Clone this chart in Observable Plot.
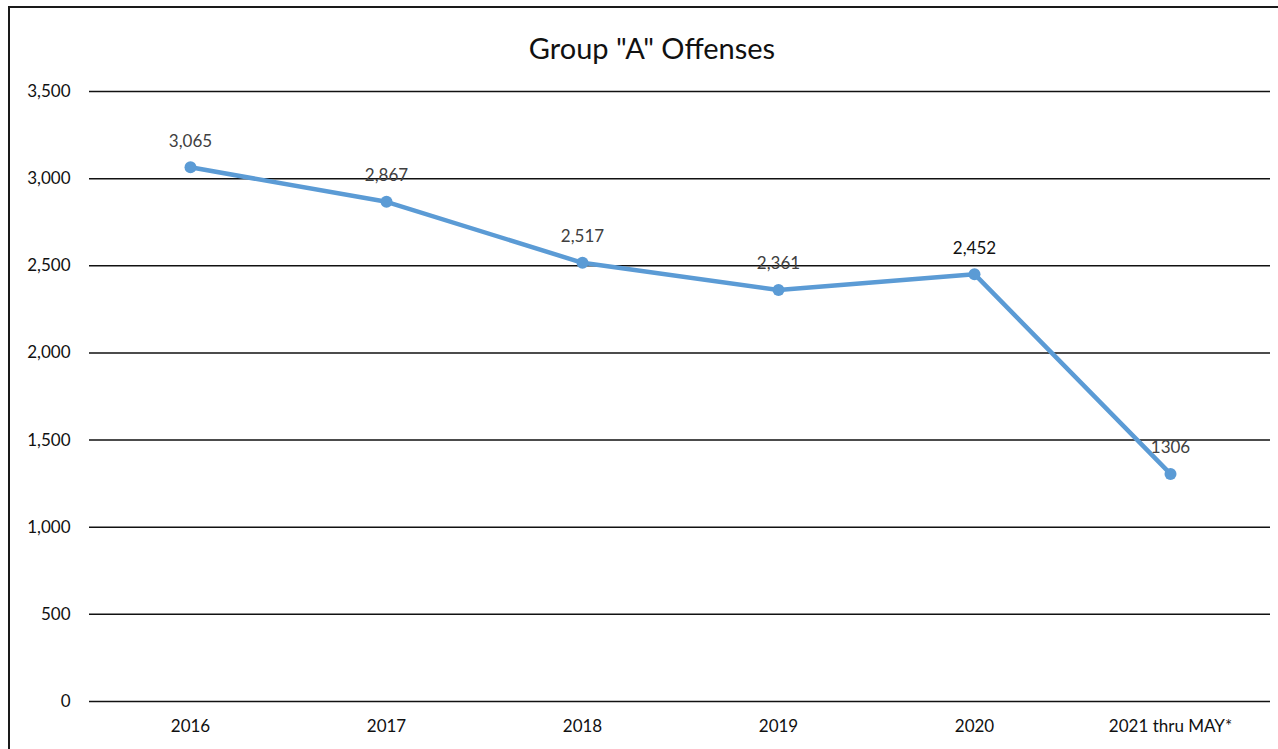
<!DOCTYPE html>
<html>
<head>
<meta charset="utf-8">
<script src="https://cdn.jsdelivr.net/npm/d3@7"></script>
<script src="https://cdn.jsdelivr.net/npm/@observablehq/plot@0.6"></script>
<style>
  html, body { margin: 0; padding: 0; background: #fff; }
  #wrap { position: relative; width: 1278px; height: 749px; overflow: hidden; font-family: Lato, "Open Sans", sans-serif; }
  #frame { position: absolute; left: 8px; top: 6px; width: 1300px; height: 800px; border-left: 2px solid #1a1a1a; border-top: 2px solid #1a1a1a; }
  #title { position: absolute; left: 0; top: 30px; width: 1304px; text-align: center; font-size: 29px; color: #111; }
  #chart { position: absolute; left: 0; top: 0; }
</style>
</head>
<body>
<div id="wrap">
  <div id="frame"></div>
  <div id="title">Group "A" Offenses</div>
  <div id="chart"></div>
</div>
<script>
const years = ["2016", "2017", "2018", "2019", "2020", "2021 thru MAY*"];
const offenses = [3065, 2867, 2517, 2361, 2452, 1306];
const valueLabels = ["3,065", "2,867", "2,517", "2,361", "2,452", "1306"];
const yTicks = [0, 500, 1000, 1500, 2000, 2500, 3000, 3500];

const data = years.map((y, i) => ({year: y, value: offenses[i], label: valueLabels[i]}));

const plot = Plot.plot({
  width: 1278,
  height: 749,
  marginLeft: 89,
  marginRight: 8,
  marginTop: 91,
  marginBottom: 48,
  style: {fontFamily: "Lato, 'Open Sans', sans-serif", fontSize: "17px", background: "transparent", color: "#111"},
  x: {type: "point", domain: years, padding: 0.5, label: null},
  y: {domain: [0, 3500], label: null},
  marks: [
    Plot.ruleY(yTicks, {stroke: "#111", strokeWidth: 1.5}),
    Plot.axisY({ticks: yTicks, tickFormat: d3.format(","), tickSize: 0, tickPadding: 19, label: null, fill: "#111"}),
    Plot.axisX({tickSize: 0, tickPadding: 18, label: null, fill: "#111"}),
    Plot.line(data, {x: "year", y: "value", stroke: "#5B9BD5", strokeWidth: 4.5}),
    Plot.dot(data, {x: "year", y: "value", r: 6, fill: "#5B9BD5", stroke: "none"}),
    Plot.text(data, {x: "year", y: "value", text: "label", dy: -26, fill: d => d.year === "2020" ? "#111" : "#404040", fontSize: 17})
  ]
});
document.getElementById("chart").appendChild(plot);
</script>
</body>
</html>
